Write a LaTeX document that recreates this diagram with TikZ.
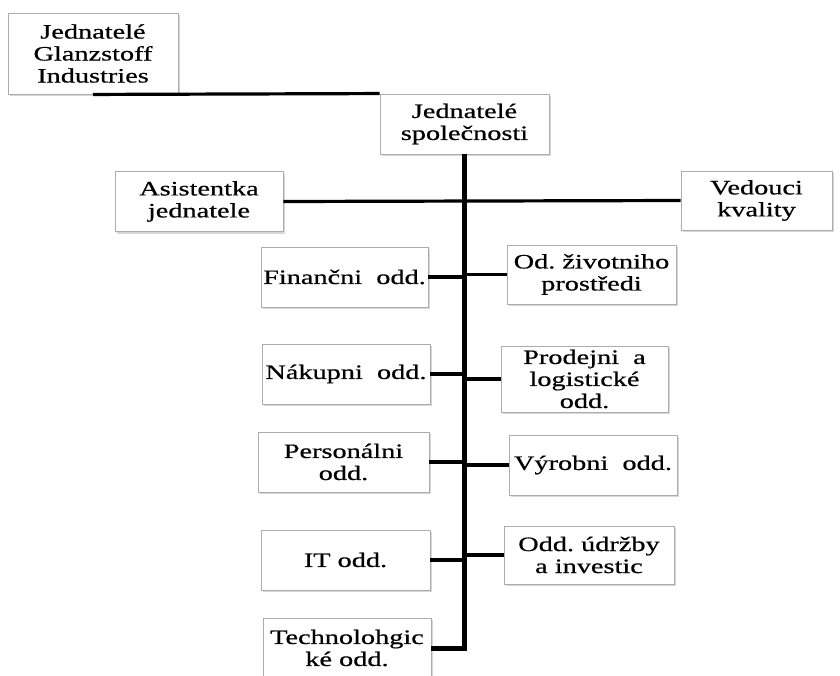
\documentclass[tikz,border=0pt]{standalone}
\usepackage{fontspec}
\setmainfont{Liberation Serif}[FakeStretch=1.38,FakeBold=0.6]
\usetikzlibrary{shadows}
\begin{document}
\begin{tikzpicture}[x=1pt,y=-1pt,
  every node/.style={font=\fontsize{20.5}{22}\selectfont,align=center,inner sep=2pt},
  unit/.style={draw=gray!65,line width=.9pt,fill=white,minimum width=168pt,minimum height=60pt,
    drop shadow={shadow xshift=2pt,shadow yshift=-2pt,opacity=.45,fill=gray!70}},
  link/.style={line width=3.2pt},
  trunk/.style={line width=5pt}]
  \useasboundingbox (0,0) rectangle (840,675);
  \clip (0,0) rectangle (840,675);
  % top
  \node[unit,minimum width=170pt,minimum height=81pt] (glan) at (93,53.5) {Jednatelé\\Glanzstoff\\Industries};
  \node[unit,minimum width=169pt] (spol) at (464.5,124) {Jednatelé\\společnosti};
  \node[unit] (asist) at (199,201.5) {Asistentka\\jednatele};
  \node[unit,minimum width=151pt,minimum height=59pt] (ved) at (756.5,200.5) {Vedouci\\kvality};
  % left side
  \node[unit,minimum width=167pt] (fin) at (344.5,277) {Finančni\ \ odd.};
  \node[unit] (nak) at (346,374) {Nákupni\ \ odd.};
  \node[unit,minimum width=171pt] (pers) at (343.5,462) {Personálni\\odd.};
  \node[unit,minimum width=169pt] (it) at (345.5,560) {IT odd.};
  \node[unit] (tech) at (347,648) {Technolohgic\\ké odd.};
  % right side
  \node[unit,minimum width=169pt,minimum height=59pt] (ziv) at (591.5,274.5) {Od.\ životniho\\prostředi};
  \node[unit,minimum width=167pt,minimum height=66pt] (prod) at (584.5,379) {Prodejni\ \ a\\logistické\\odd.};
  \node[unit] (vyr) at (593,465) {Výrobni\ \ odd.};
  \node[unit,minimum width=170pt,minimum height=58pt] (udr) at (589,555) {Odd.\ údržby\\a investic};
  % connectors
  \draw[link] (glan.south) -- (spol.north west);
  \draw[link] (asist.east) -- (ved.west);
  \draw[trunk] (spol.south) |- (tech.east);
  \foreach \n in {fin,nak,pers,it}
    \draw[link] (\n.east) -- (\n.east -| spol.south);
  \foreach \n in {ziv,prod,vyr,udr}
    \draw[link] (\n.west) -- (\n.west -| spol.south);
\end{tikzpicture}
\end{document}
